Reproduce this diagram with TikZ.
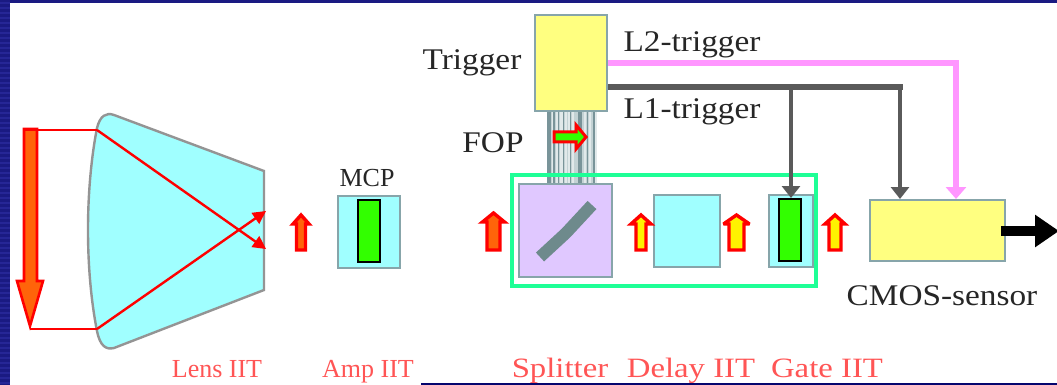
\documentclass[tikz,border=0pt]{standalone}
\usepackage{graphicx}
\usepackage{fontspec}
\setmainfont{Liberation Serif}
\usetikzlibrary{arrows.meta}
\definecolor{band}{RGB}{26,26,130}
\definecolor{bandl}{RGB}{38,38,150}
\definecolor{navyb}{RGB}{5,5,110}
\definecolor{edge}{RGB}{135,165,170}
\definecolor{cyanf}{RGB}{160,255,255}
\definecolor{yelf}{RGB}{255,255,128}
\definecolor{purf}{RGB}{224,200,255}
\definecolor{grn}{RGB}{50,255,0}
\definecolor{frame}{RGB}{30,255,150}
\definecolor{pinkl}{RGB}{255,150,255}
\definecolor{dgray}{RGB}{90,90,90}
\definecolor{orng}{RGB}{255,100,10}
\definecolor{lred}{RGB}{255,85,85}
\definecolor{diag}{RGB}{110,138,140}
\tikzset{x=1pt,y=-1pt,
 boxn/.style={draw=edge,line width=2pt,minimum width=#1,inner sep=0pt,anchor=north west},
 greenbar/.style={draw=black,line width=1.6pt,fill=grn,inner sep=0pt,anchor=north west},
 blk/.style={font=\fontsize{30}{30}\selectfont,text=black!85,inner sep=0pt,anchor=base},
 redl/.style={font=\fontsize{26}{26}\selectfont,text=lred,inner sep=0pt,anchor=base},
 redw/.style={font=\fontsize{28}{28}\selectfont,text=lred,inner sep=0pt,anchor=base},
 ray/.style={draw=red,line width=2.4pt},
 upar/.style={draw=red,line width=3.4pt,line join=miter,miter limit=3},
}
\newcommand{\widb}[1]{\scalebox{1.11}[1]{#1}}
\newcommand{\widr}[1]{\scalebox{1.17}[1]{#1}}
% cx, top, bottom, half shaft (centre line), half wings (centre line), fill
\newcommand{\uparr}[6]{%
 \path[upar,fill=#6] (#1,#2+3) -- (#1+#5,#2+12) -- (#1+#4,#2+12) -- (#1+#4,#3-2) -- (#1-#4,#3-2) -- (#1-#4,#2+12) -- (#1-#5,#2+12) -- cycle;
}
\begin{document}
\begin{tikzpicture}
\useasboundingbox (0,0) rectangle (1057,385);
\fill[white] (0,0) rectangle (1057,385);
\fill[band] (0,0) rectangle (1057,3.5);
\fill[band] (0,0) rectangle (10,385);
\foreach \yy in {2,7,...,382}{\fill[bandl] (0,\yy) rectangle (10,\yy+2);}
\fill[navyb] (421,383) rectangle (1057,385);
% lens IIT
\path[draw=black!42,line width=2.4pt,fill=cyanf]
 (97,128) .. controls (100,116) and (106,112) .. (114,115)
 -- (264,171) -- (264,290) -- (114,348)
 .. controls (106,350) and (100,346) .. (97,331)
 .. controls (85,270) and (85,190) .. (97,128) -- cycle;
\coordinate (tl) at (97,130);
\coordinate (bl) at (97,329);
\coordinate (tt) at (266,249);
\coordinate (bt) at (266,211);
\coordinate (ol) at (25,130);
\coordinate (orb) at (30,329);
% object arrow
\path[draw=red,line width=2.6pt,fill=orng,line join=miter]
 (24,129) -- (37,129) -- (37,281) -- (43,281) -- (30,326) -- (17,281) -- (24,281) -- cycle;
\draw[ray] (ol) -- (tl);
\draw[ray] (orb) -- (bl);
\draw[ray,-{Triangle[width=13pt,length=13pt]}] (tl) -- (tt);
\draw[ray,-{Triangle[width=13pt,length=13pt]}] (bl) -- (bt);
\uparr{301}{212}{252}{4.5}{8}{orng}
% MCP
\node[boxn=62pt,minimum height=72pt,fill=cyanf] (mcp) at (337,195) {};
\node[greenbar,minimum width=22.4pt,minimum height=62.4pt] (mcpg) at (357,199) {};
\node[redl,text=black!85] (mcpt) at (367,186) {MCP};
% fibres
\fill[edge!50] (547,110) rectangle (595,186);
\foreach \xx/\w in {547/4,553/1.5,558/1,563/1,570/1,578/4,587/1,593/1.5}{
 \fill[edge!90!black] (\xx,110) rectangle (\xx+\w,186);}
\foreach \xx/\w in {551.5/1.5,556/2,560/2.5,565/2,568/1.5,572/1.5,584/1.5,589/2,595/1.5}{
 \fill[white!75!edge] (\xx,110) rectangle (\xx+\w,186);}
% green frame
\node[draw=frame,line width=4pt,minimum width=304pt,minimum height=111pt,inner sep=0pt,anchor=north west] (gframe) at (510,173) {};
% trigger
\node[boxn=72pt,minimum height=96pt,fill=yelf] (trig) at (534,14) {};
\node[blk] (trigt) at (472,70) {\widb{Trigger}};
\node[blk] (fopt) at (493,153) {\widb{FOP}};
\path[draw=red,line width=3pt,fill=grn,line join=miter,miter limit=3] (554,132) -- (576,132) -- (576,125) -- (586,137) -- (576,149) -- (576,142) -- (554,142) -- cycle;
% splitter
\node[boxn=93pt,minimum height=93pt,fill=purf] (split) at (518,183) {};
\draw[line width=12pt,draw=diag,line join=round] (540,257) -- (566,233) -- (592,205);
% delay
\node[boxn=66pt,minimum height=72pt,fill=cyanf] (delay) at (653,194) {};
% gate
\node[boxn=44pt,minimum height=72pt,fill=cyanf] (gate) at (768,194) {};
\node[greenbar,minimum width=22.4pt,minimum height=62.4pt] (gateg) at (778,198) {};
% cmos
\node[boxn=135pt,minimum height=61pt,fill=yelf] (cmos) at (869,199) {};
\node[blk] (cmost) at (942,305) {\widb{CMOS-sensor}};
% up arrows
\uparr{493.5}{210}{252}{6.5}{11}{orng}
\uparr{641}{212}{252}{5}{10}{yellow}
\uparr{736.5}{212}{252}{7.5}{13}{yellow}
\uparr{835}{212}{252}{6}{10}{yellow}
% trigger lines
\coordinate (c1) at (791,87);
\coordinate (c2) at (900,87);
\coordinate (c2e) at (903,87);
\coordinate (gatetop) at (791,198);
\coordinate (cmostop) at (900,199);
\coordinate (pinkc) at (956,63);
\coordinate (pinktop) at (956,199);
\coordinate (tr2) at (608,63);
\coordinate (tr1) at (608,87);
\coordinate (out) at (1059,231);
\draw[pinkl,line width=6pt,-{Triangle[width=20pt,length=12pt]}] (tr2) -- (pinkc) -- (pinktop);
\draw[dgray,line width=6pt] (tr1) -- (c2e);
\draw[dgray,line width=4.5pt,-{Triangle[width=18pt,length=12pt]}] (c1) -- (gatetop);
\draw[dgray,line width=4pt,-{Triangle[width=18pt,length=12pt]}] (c2) -- (cmostop);
% output arrow
\draw[black,line width=10pt,-{Triangle[width=31pt,length=24pt]}] (1001,231) -- (out);
\node[blk] (l2) at (692,52) {\widb{L2-trigger}};
\node[blk] (l1) at (692,119) {\widb{L1-trigger}};
% labels
\node[redl] (n1) at (217,377) {Lens IIT};
\node[redl] (n2) at (368,377) {Amp IIT};
\node[redw] (n3) at (560,377) {\widr{Splitter}};
\node[redw] (n4) at (691,377) {\widr{Delay IIT}};
\node[redw] (n5) at (827,377) {\widr{Gate IIT}};
\end{tikzpicture}
\end{document}
